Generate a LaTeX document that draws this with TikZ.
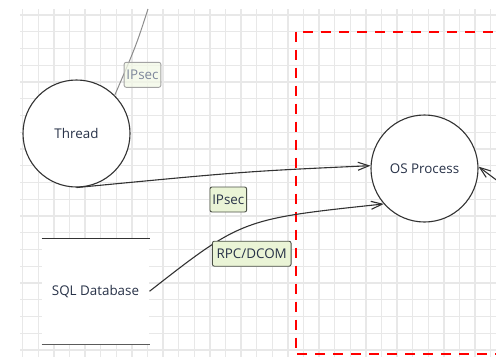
\documentclass[tikz,border=0pt]{standalone}
\usepackage{fontspec}
\setmainfont{Open Sans}
\usetikzlibrary{positioning,arrows.meta,calc}

\definecolor{gridgray}{RGB}{232,232,232}
\definecolor{edgegray}{RGB}{50,50,50}
\definecolor{txt}{RGB}{40,50,72}
\definecolor{tagfill}{RGB}{234,244,214}
\definecolor{tagline}{RGB}{75,80,70}
\definecolor{fadeline}{RGB}{140,140,140}
\definecolor{fadetxt}{RGB}{125,135,155}

\begin{document}
\begin{tikzpicture}[x=1pt,y=-1pt,
  font=\fontsize{13.4}{15}\selectfont,
  >={Straight Barb[length=11pt,width=8pt]},
  proc/.style={circle,draw=edgegray,line width=1.1pt,fill=white,
    minimum size=107pt,inner sep=0pt,text=txt},
  store/.style={rectangle,fill=white,minimum width=107.6pt,
    minimum height=106pt,text=txt},
  flow/.style={draw=edgegray,line width=1.1pt},
  tag/.style={rectangle,rounded corners=2pt,draw=tagline,fill=tagfill,
    text=txt,line width=0.9pt,inner sep=0pt,minimum height=25pt},
  faded/.style={draw=fadeline!80,fill=tagfill!60,fill opacity=0.75,
    text=fadetxt,text opacity=1}]

  \useasboundingbox (0,0) rectangle (496,357);
  \clip (0,0) rectangle (496,357);

  % background grid
  \foreach \i in {0,...,30}
    \draw[gridgray,line width=1.3pt] ({22.7+15.6*\i},9) -- ({22.7+15.6*\i},357);
  \foreach \j in {0,...,20}
    \draw[gridgray,line width=1.3pt] (20,{15+16.75*\j}) -- (496,{15+16.75*\j});

  % trust boundary
  \draw[red,line width=2pt,dash pattern=on 10pt off 8pt]
    (295.7,31.7) rectangle (540,354);

  \node[proc] (thread) at (76.5,133.5) {Thread};
  \node[proc] (os) at (424.5,168.5) {OS Process};
  \node[store] (db) at (95.5,291.3) {SQL Database};
  \draw[edgegray,line width=1pt] (db.north west) -- (db.north east);
  \draw[edgegray!80,line width=1.4pt] (db.south west) -- (db.south east);

  \coordinate (inT) at (148,9);
  \coordinate (inR) at (507,188);

  \draw[fadeline,line width=1pt] (inT) .. controls (136,46) .. (thread.45);
  \draw[flow,->] (thread.south) .. controls (245,171.4) .. (os.177);
  \draw[flow,->] (db.east) .. controls (242,219) .. (os.221);
  \draw[flow,->] (inR) -- (os.2);

  \node[tag,faded,minimum width=36.7pt] (l0) at (142.5,74.8) {IPsec};
  \node[tag,minimum width=36.7pt] (l1) at (228.3,199.5) {IPsec};
  \node[tag,minimum width=78.7pt] (l2) at (251.7,253.7) {RPC/DCOM};

\end{tikzpicture}
\end{document}
